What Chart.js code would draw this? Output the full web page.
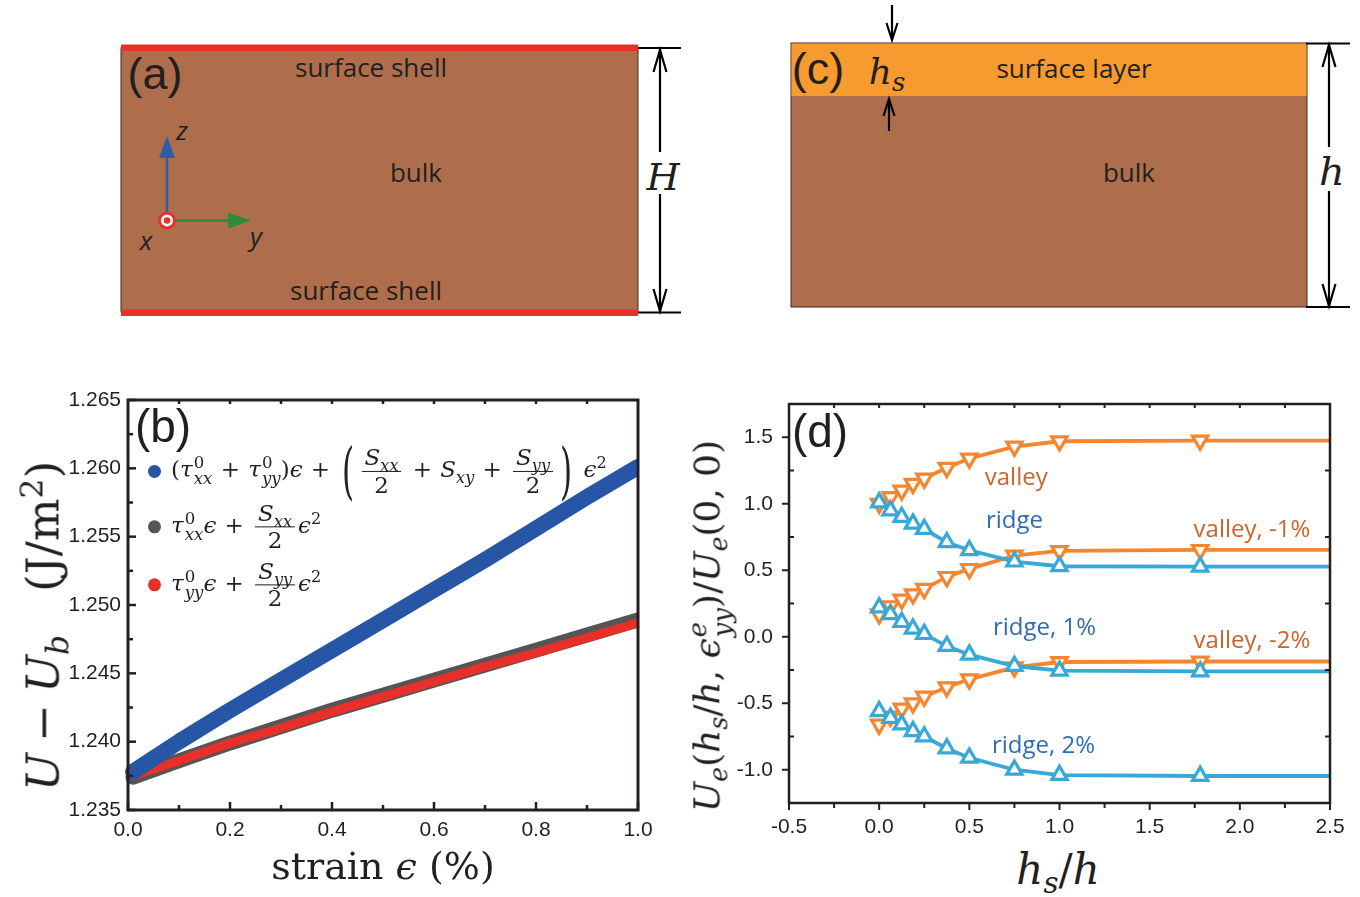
<!DOCTYPE html>
<html>
<head>
<meta charset="utf-8">
<title>Surface energy of a strained film</title>
<script src="https://cdn.jsdelivr.net/npm/chart.js@4.4.1/dist/chart.umd.min.js"></script>
<style>
  html, body { margin: 0; padding: 0; background: #fff; }
  #fig { position: relative; width: 1360px; height: 897px; overflow: hidden;
         font-family: "Liberation Sans", Arial, sans-serif; color: #231f20; }
  .abs { position: absolute; }
  .math { font-family: "DejaVu Serif", "Liberation Serif", serif; white-space: nowrap; color: #231f20; line-height: 1; }
  .math i { font-style: italic; }
  .math sub, .math sup { font-size: 0.7em; line-height: 0; }
  .ss { display: inline-flex; flex-direction: column; vertical-align: middle; line-height: 0.95;
        font-size: 0.72em; margin-left: 1px; }
  .frac { display: inline-flex; flex-direction: column; align-items: center; vertical-align: middle;
          line-height: 1.05; margin: 0 3px; }
  .frac .num { border-bottom: 1.4px solid #231f20; padding: 0 3px 1px; }
  .frac .den { padding-top: 1px; }
  .op { margin: 0 0.36em; }
  .bp { display: inline-block; font-size: 2.7em; transform: scaleX(0.5); vertical-align: middle;
        line-height: 1; margin: 0 -2px; font-weight: 300; }
  .rot { transform: translate(-50%, -50%) rotate(-90deg); }
  .ctr { transform: translate(-50%, -50%); }
  .legrow { display: flex; align-items: center; transform: translateY(-50%); }
  .dot { width: 13px; height: 13px; border-radius: 50%; margin-right: 10px; flex: none; }
  canvas { display: block; }
</style>
</head>
<body>
<div id="fig">

  <!-- schematic cross-sections: (a) film with surface shells, (c) film with a surface layer -->
  <svg class="abs" style="left:0;top:0" width="1360" height="340" xmlns="http://www.w3.org/2000/svg">
    <g font-family="'Open Sans', 'Liberation Sans', sans-serif" fill="#231f20">
      <!-- (a) -->
      <rect x="121" y="48" width="517" height="264" fill="#AE6E4C" stroke="#3b2a22" stroke-width="1"/>
      <rect x="121" y="44.5" width="517" height="6.5" fill="#E8302A"/>
      <rect x="121" y="309.5" width="517" height="6.5" fill="#E8302A"/>
      <text x="155" y="89" font-family="'Liberation Sans', Arial, sans-serif" font-size="45" text-anchor="middle">(a)</text>
      <text x="371" y="77" font-size="26" text-anchor="middle">surface shell</text>
      <text x="366" y="300" font-size="26" text-anchor="middle">surface shell</text>
      <text x="416" y="182" font-size="26" text-anchor="middle">bulk</text>
      <!-- coordinate frame -->
      <line x1="167" y1="212" x2="167" y2="152" stroke="#2D5DA9" stroke-width="2.5"/>
      <polygon points="167,136 159,158 175,158" fill="#2D5DA9"/>
      <line x1="175" y1="220.5" x2="232" y2="220.5" stroke="#2F8A3C" stroke-width="2.5"/>
      <polygon points="251,220.5 228,212.5 228,228.5" fill="#2F8A3C"/>
      <circle cx="167" cy="220.5" r="7.5" fill="#fff" stroke="#E8302A" stroke-width="3"/>
      <circle cx="167" cy="220.5" r="3.3" fill="#E8302A"/>
      <text x="182" y="140" font-size="26" font-style="italic" text-anchor="middle">z</text>
      <text x="256" y="246" font-size="26" font-style="italic" text-anchor="middle">y</text>
      <text x="146" y="250" font-size="26" font-style="italic" text-anchor="middle">x</text>
      <!-- thickness H -->
      <g stroke="#000" stroke-width="2.2" fill="none">
        <line x1="638" y1="48" x2="681" y2="48"/>
        <line x1="638" y1="312.5" x2="681" y2="312.5"/>
        <line x1="660" y1="49" x2="660" y2="152"/>
        <line x1="660" y1="194" x2="660" y2="311"/>
        <polyline points="653.5,72 660,50 666.5,72"/>
        <polyline points="653.5,289 660,311 666.5,289"/>
      </g>
      <text x="663" y="190" font-family="'DejaVu Serif', serif" font-style="italic" font-size="38" text-anchor="middle">H</text>

      <!-- (c) -->
      <rect x="791" y="43" width="516" height="264" fill="#AE6E4C" stroke="#3b2a22" stroke-width="1"/>
      <rect x="791.5" y="43.5" width="515" height="52.5" fill="#F79A30"/>
      <text x="818" y="84" font-family="'Liberation Sans', Arial, sans-serif" font-size="45" text-anchor="middle">(c)</text>
      <text x="1074" y="78" font-size="26" text-anchor="middle">surface layer</text>
      <text x="1129" y="182" font-size="26" text-anchor="middle">bulk</text>
      <text x="887" y="84" font-family="'DejaVu Serif', serif" font-style="italic" font-size="36" text-anchor="middle">h<tspan font-size="26" dy="7">s</tspan></text>
      <g stroke="#000" stroke-width="2.2" fill="none">
        <line x1="892" y1="5" x2="892" y2="39"/>
        <polyline points="886.5,23 892,40 897.5,23"/>
        <line x1="889" y1="99" x2="889" y2="131"/>
        <polyline points="883.5,116 889,99 894.5,116"/>
        <line x1="1306" y1="43.5" x2="1350" y2="43.5"/>
        <line x1="1306" y1="307" x2="1350" y2="307"/>
        <line x1="1329" y1="44" x2="1329" y2="147"/>
        <line x1="1329" y1="191" x2="1329" y2="306"/>
        <polyline points="1322.5,67 1329,45 1335.5,67"/>
        <polyline points="1322.5,284 1329,306 1335.5,284"/>
      </g>
      <text x="1332" y="185" font-family="'DejaVu Serif', serif" font-style="italic" font-size="40" text-anchor="middle">h</text>
    </g>
  </svg>

  <!-- (b) chart -->
  <div class="abs" style="left:60px;top:380px;width:600px;height:470px">
    <canvas id="chartB" width="600" height="470"></canvas>
  </div>
  <div class="abs" style="left:163px;top:426px;transform:translate(-50%,-50%);font-size:46px;">(b)</div>

  <div class="abs legrow" style="left:148px;top:471px">
    <span class="dot" style="background:#2756A6"></span>
    <span class="math" style="font-size:23px">(<i>τ</i><span class="ss"><span>0</span><i>xx</i></span><span class="op">+</span><i>τ</i><span class="ss"><span>0</span><i>yy</i></span>)<i>ϵ</i><span class="op">+</span><span class="bp">(</span><span class="frac"><span class="num"><i>S</i><sub><i>xx</i></sub></span><span class="den">2</span></span><span class="op">+</span><i>S</i><sub><i>xy</i></sub><span class="op">+</span><span class="frac"><span class="num"><i>S</i><sub><i>yy</i></sub></span><span class="den">2</span></span><span class="bp">)</span>&nbsp;<i>ϵ</i><sup>2</sup></span>
  </div>
  <div class="abs legrow" style="left:148px;top:527px">
    <span class="dot" style="background:#555555"></span>
    <span class="math" style="font-size:23px"><i>τ</i><span class="ss"><span>0</span><i>xx</i></span><i>ϵ</i><span class="op">+</span><span class="frac"><span class="num"><i>S</i><sub><i>xx</i></sub></span><span class="den">2</span></span><i>ϵ</i><sup>2</sup></span>
  </div>
  <div class="abs legrow" style="left:148px;top:585px">
    <span class="dot" style="background:#E8302A"></span>
    <span class="math" style="font-size:23px"><i>τ</i><span class="ss"><span>0</span><i>yy</i></span><i>ϵ</i><span class="op">+</span><span class="frac"><span class="num"><i>S</i><sub><i>yy</i></sub></span><span class="den">2</span></span><i>ϵ</i><sup>2</sup></span>
  </div>

  <div class="abs math rot" style="left:43px;top:626px;font-size:45px"><i>U</i><span class="op" style="margin:0 0.25em">−</span><i>U</i><sub><i>b</i></sub>&nbsp;&nbsp;&nbsp;(J/m<sup>2</sup>)</div>
  <div class="abs math ctr" style="left:383px;top:866px;font-size:38px">strain <i>ϵ</i> (%)</div>

  <!-- (d) chart -->
  <div class="abs" style="left:720px;top:384px;width:630px;height:459px">
    <canvas id="chartD" width="630" height="459"></canvas>
  </div>
  <div class="abs" style="left:820px;top:431px;transform:translate(-50%,-50%);font-size:46px;">(d)</div>

  <div class="abs math rot" style="left:710px;top:626px;font-size:36px"><i>U</i><sub><i>e</i></sub>(<i>h</i><sub><i>s</i></sub>/<i>h</i>, <i>ϵ</i><span class="ss"><i>e</i><i>yy</i></span>)/<i>U</i><sub><i>e</i></sub>(0, 0)</div>
  <div class="abs math ctr" style="left:1058px;top:870px;font-size:42px"><i>h</i><sub><i>s</i></sub>/<i>h</i></div>
</div>

<script>
// ---------- (b) surface energy versus strain ----------
const strainPct = [0.01, 0.1, 0.2, 0.3, 0.4, 0.5, 0.6, 0.7, 0.8, 0.9, 1.0];
const energyBiaxial = [1.2378, 1.2400, 1.2423, 1.2445, 1.2467, 1.2489, 1.2511, 1.2533, 1.2556, 1.2579, 1.2601];
const energyXX = [1.2374, 1.2386, 1.2399, 1.2411, 1.2423, 1.2434, 1.2445, 1.2456, 1.2467, 1.2478, 1.2489];
const energyYY = [1.2375, 1.2386, 1.2399, 1.2410, 1.2422, 1.2433, 1.2444, 1.2455, 1.2465, 1.2476, 1.2487];

const strainTicks = [0, 0.2, 0.4, 0.6, 0.8, 1.0];
const strainMinorTicks = [0.1, 0.3, 0.5, 0.7, 0.9];
const strainTopTicks = [0.1, 0.2, 0.3, 0.4, 0.5, 0.6, 0.7, 0.8, 0.9];
const energyTicks = [1.235, 1.240, 1.245, 1.250, 1.255, 1.260, 1.265];
const energyMinorTicks = [1.2375, 1.2425, 1.2475, 1.2525, 1.2575, 1.2625];

// ---------- (d) normalised elastic energy versus layer thickness ----------
const hsRatio = [0, 0.0625, 0.125, 0.1875, 0.25, 0.375, 0.5, 0.75, 1.0, 1.78, 2.5];
const valley     = [1.00, 1.05, 1.10, 1.15, 1.19, 1.27, 1.34, 1.43, 1.47, 1.475, 1.475];
const ridge      = [1.01, 0.95, 0.90, 0.85, 0.81, 0.71, 0.65, 0.565, 0.53, 0.527, 0.527];
const valleyM1   = [0.17, 0.23, 0.28, 0.32, 0.36, 0.45, 0.51, 0.61, 0.645, 0.653, 0.653];
const ridgeP1    = [0.22, 0.17, 0.11, 0.06, 0.02, -0.07, -0.135, -0.22, -0.255, -0.261, -0.261];
const valleyM2   = [-0.66, -0.60, -0.54, -0.50, -0.45, -0.38, -0.32, -0.23, -0.19, -0.186, -0.186];
const ridgeP2    = [-0.56, -0.61, -0.66, -0.71, -0.75, -0.84, -0.91, -1.00, -1.04, -1.047, -1.047];

const hsTicks = [-0.5, 0, 0.5, 1.0, 1.5, 2.0, 2.5];
const hsMinorTicks = [-0.25, 0.25, 0.75, 1.25, 1.75, 2.25];
const hsTopTicks = [-0.25, 0, 0.25, 0.5, 0.75, 1.0, 1.25, 1.5, 1.75, 2.0, 2.25];
const ueTicks = [-1.0, -0.5, 0, 0.5, 1.0, 1.5];
const ueMinorTicks = [-0.75, -0.25, 0.25, 0.75, 1.25];

const INK = '#231f20';
const ORANGE = '#F5862F';
const BLUE = '#37A8D8';

// frame around the plot area plus hand-placed tick marks on each edge
const frameTicks = {
  id: 'frameTicks',
  afterDraw(chart, args, opts) {
    const { ctx, chartArea: a, scales } = chart;
    ctx.save();
    ctx.strokeStyle = opts.color;
    ctx.lineCap = 'butt';
    ctx.lineWidth = opts.tickWidth;
    for (const m of opts.marks) {
      const sc = (m.edge === 'left' || m.edge === 'right') ? scales.y : scales.x;
      for (const v of m.values) {
        const p = sc.getPixelForValue(v);
        ctx.beginPath();
        if (m.edge === 'bottom') { ctx.moveTo(p, a.bottom); ctx.lineTo(p, a.bottom + (m.out ? m.len : -m.len)); }
        if (m.edge === 'top')    { ctx.moveTo(p, a.top);    ctx.lineTo(p, a.top + (m.out ? -m.len : m.len)); }
        if (m.edge === 'left')   { ctx.moveTo(a.left, p);   ctx.lineTo(a.left + (m.out ? -m.len : m.len), p); }
        if (m.edge === 'right')  { ctx.moveTo(a.right, p);  ctx.lineTo(a.right + (m.out ? m.len : -m.len), p); }
        ctx.stroke();
      }
    }
    ctx.lineWidth = opts.frameWidth;
    ctx.strokeRect(a.left, a.top, a.right - a.left, a.bottom - a.top);
    ctx.restore();
  }
};

// text notes placed in data coordinates
const curveNotes = {
  id: 'curveNotes',
  afterDatasetsDraw(chart, args, opts) {
    if (!opts.notes) return;
    const { ctx, scales } = chart;
    ctx.save();
    ctx.font = opts.font;
    ctx.textAlign = 'center';
    ctx.textBaseline = 'middle';
    for (const n of opts.notes) {
      ctx.fillStyle = n.color;
      ctx.fillText(n.text, scales.x.getPixelForValue(n.at[0]), scales.y.getPixelForValue(n.at[1]));
    }
    ctx.restore();
  }
};

function fixedTicks(values) {
  return (scale) => { scale.ticks = values.map(v => ({ value: v })); };
}
// fixed axis box size; label overhang is left to the layout padding
function fixedBox(size) {
  return (s) => {
    if (s.isHorizontal()) s.height = size; else s.width = size;
    s.paddingTop = s.paddingBottom = s.paddingLeft = s.paddingRight = 0;
  };
}

const hiddenGrid = { display: false, drawTicks: false };

function drawCharts() {
  Chart.defaults.font.family = '"Liberation Sans", Arial, sans-serif';
  Chart.defaults.color = INK;

  const band = (vals) => strainPct.map((x, i) => ({ x, y: vals[i] }));
  new Chart(document.getElementById('chartB'), {
    type: 'line',
    data: {
      datasets: [
        { label: 'biaxial', data: band(energyBiaxial), borderColor: '#2756A6', borderWidth: 16, order: 1 },
        { label: 'yy', data: band(energyYY), borderColor: '#E8302A', borderWidth: 9, order: 2 },
        { label: 'xx', data: band(energyXX), borderColor: '#555555', borderWidth: 15, order: 3 }
      ].map(d => Object.assign(d, { pointRadius: 0, borderCapStyle: 'round', borderJoinStyle: 'round',
                                     tension: 0, clip: { left: 9, right: 0, top: 9, bottom: 9 } }))
    },
    options: {
      responsive: false, animation: false, devicePixelRatio: 1,
      layout: { autoPadding: false, padding: { top: 20, right: 22, left: 0, bottom: 0 } },
      plugins: {
        legend: { display: false }, tooltip: { enabled: false },
        frameTicks: {
          color: INK, tickWidth: 2.5, frameWidth: 3,
          marks: [
            { edge: 'left', values: energyTicks, len: 8, out: false },
            { edge: 'left', values: energyMinorTicks, len: 5, out: false },
            { edge: 'bottom', values: strainTicks, len: 8, out: false },
            { edge: 'bottom', values: strainMinorTicks, len: 5, out: false },
            { edge: 'top', values: strainTopTicks, len: 4, out: false }
          ]
        }
      },
      scales: {
        x: {
          type: 'linear', min: 0, max: 1,
          afterBuildTicks: fixedTicks(strainTicks),
          afterFit: fixedBox(40),
          grid: hiddenGrid, border: { display: false },
          ticks: { font: { size: 21 }, padding: 8, maxRotation: 0, callback: v => v.toFixed(1) }
        },
        y: {
          type: 'linear', min: 1.235, max: 1.265,
          afterBuildTicks: fixedTicks(energyTicks),
          afterFit: fixedBox(68),
          grid: hiddenGrid, border: { display: false },
          ticks: { font: { size: 21 }, padding: 7, callback: v => v.toFixed(3) }
        }
      }
    },
    plugins: [frameTicks]
  });

  const curve = (vals) => hsRatio.map((x, i) => ({ x, y: vals[i] }));
  const lastIdx = hsRatio.length - 1;
  const style = (color, down, order) => ({
    borderColor: color, borderWidth: 3.8, tension: 0, order,
    pointStyle: 'triangle', pointRotation: down ? 180 : 0,
    pointRadius: (c) => (c.dataIndex === lastIdx ? 0 : 8.8),
    pointBorderWidth: 3.2, pointBorderColor: color, pointBackgroundColor: '#ffffff',
    clip: { left: 12, right: 0, top: 12, bottom: 12 }
  });
  new Chart(document.getElementById('chartD'), {
    type: 'line',
    data: {
      datasets: [
        Object.assign({ label: 'valley', data: curve(valley) }, style(ORANGE, true, 2)),
        Object.assign({ label: 'ridge', data: curve(ridge) }, style(BLUE, false, 1)),
        Object.assign({ label: 'valley, -1%', data: curve(valleyM1) }, style(ORANGE, true, 2)),
        Object.assign({ label: 'ridge, 1%', data: curve(ridgeP1) }, style(BLUE, false, 1)),
        Object.assign({ label: 'valley, -2%', data: curve(valleyM2) }, style(ORANGE, true, 2)),
        Object.assign({ label: 'ridge, 2%', data: curve(ridgeP2) }, style(BLUE, false, 1))
      ]
    },
    options: {
      responsive: false, animation: false, devicePixelRatio: 1,
      layout: { autoPadding: false, padding: { top: 20, right: 20, left: 0, bottom: 0 } },
      plugins: {
        legend: { display: false }, tooltip: { enabled: false },
        curveNotes: {
          font: '24px "Open Sans", "Liberation Sans", sans-serif',
          notes: [
            { text: 'valley', at: [0.76, 1.19], color: '#C9652B' },
            { text: 'ridge', at: [0.75, 0.866], color: '#2E6CB4' },
            { text: 'valley, -1%', at: [2.067, 0.80], color: '#C9652B' },
            { text: 'ridge, 1%', at: [0.917, 0.068], color: '#2E6CB4' },
            { text: 'valley, -2%', at: [2.067, -0.03], color: '#C9652B' },
            { text: 'ridge, 2%', at: [0.911, -0.82], color: '#2E6CB4' }
          ]
        },
        frameTicks: {
          color: INK, tickWidth: 2, frameWidth: 2.5,
          marks: [
            { edge: 'left', values: ueTicks, len: 7, out: true },
            { edge: 'left', values: ueMinorTicks, len: 5, out: false },
            { edge: 'right', values: ueMinorTicks, len: 5, out: false },
            { edge: 'bottom', values: hsTicks, len: 7, out: true },
            { edge: 'bottom', values: hsMinorTicks, len: 5, out: true },
            { edge: 'top', values: hsTopTicks, len: 4, out: false }
          ]
        }
      },
      scales: {
        x: {
          type: 'linear', min: -0.5, max: 2.5,
          afterBuildTicks: fixedTicks(hsTicks),
          afterFit: fixedBox(40),
          grid: hiddenGrid, border: { display: false },
          ticks: { font: { size: 21 }, padding: 12, maxRotation: 0, callback: v => v.toFixed(1) }
        },
        y: {
          type: 'linear', min: -1.25, max: 1.75,
          afterBuildTicks: fixedTicks(ueTicks),
          afterFit: fixedBox(69),
          grid: hiddenGrid, border: { display: false },
          ticks: { font: { size: 21 }, padding: 16, callback: v => v.toFixed(1) }
        }
      }
    },
    plugins: [frameTicks, curveNotes]
  });
}

const fontLoads = [
  '21px "Liberation Sans"', '24px "Open Sans"', '26px "Open Sans"'
].map(f => document.fonts.load(f).catch(() => null));
Promise.all(fontLoads).then(drawCharts, drawCharts);
</script>
</body>
</html>
